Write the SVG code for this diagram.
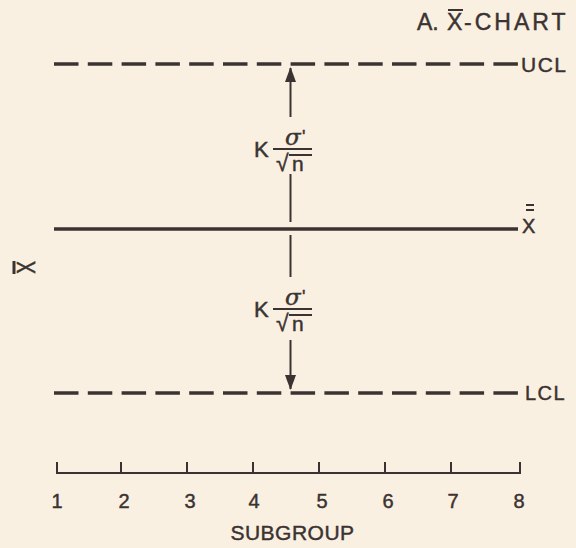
<svg xmlns="http://www.w3.org/2000/svg" width="576" height="548" viewBox="0 0 576 548">
<style>
  text { font-family: "Liberation Sans", Arial, sans-serif; fill: #3b3331; stroke: #3b3331; stroke-width: 0.45; }
  .ln { stroke: #3b3331; stroke-width: 3; fill: none; }
  .thin { stroke: #3b3331; stroke-width: 2; fill: none; }
  .dash { stroke: #3b3331; stroke-width: 3.5; fill: none; stroke-dasharray: 24.5 9.3; }
  .lbl { font-size: 20px; letter-spacing: 1.5px; }
  .num { font-size: 20px; text-anchor: middle; }
  .k { font-size: 22px; }
  .sig { font-size: 23px; font-style: italic; font-family: "DejaVu Serif", "Liberation Serif", serif; }
</style>
<defs>
  <marker id="ah" viewBox="0 0 15 11" refX="14" refY="5.5" markerWidth="7.5" markerHeight="5.5" markerUnits="strokeWidth" orient="auto">
    <path d="M0,0 L15,5.5 L0,11 z" fill="#3b3331"/>
  </marker>
</defs>
<rect width="576" height="548" fill="#f9f0e2"/>

<g id="title">
  <text x="417" y="30" class="k" style="font-size:23px">A. <tspan x="447">X</tspan><tspan x="464" style="letter-spacing:3px">-CHART</tspan></text>
  <line x1="448" y1="10" x2="463" y2="10" class="thin"/>
</g>

<g id="ucl">
  <line x1="54" y1="64" x2="518" y2="64" class="dash"/>
  <text x="521" y="72" class="lbl" style="font-size:21px">UCL</text>
</g>

<g id="center">
  <line x1="54" y1="229" x2="518" y2="229" class="ln" style="stroke-width:3.5"/>
  <text x="522" y="233" class="lbl">X</text>
  <line x1="526" y1="205" x2="534" y2="205" class="thin"/>
  <line x1="526" y1="210" x2="534" y2="210" class="thin"/>
</g>

<g id="lcl">
  <line x1="54" y1="393" x2="518" y2="393" class="dash"/>
  <text x="525" y="400" class="lbl">LCL</text>
</g>

<g id="ylabel">
  <text transform="translate(35,267.5) rotate(-90) scale(1,1.35)" x="0" y="0" text-anchor="middle" style="font-size:19px">X</text>
  <line x1="14" y1="261" x2="14" y2="274" class="ln"/>
</g>

<g id="upper-formula">
  <text x="254" y="157" class="k">K</text>
  <text x="285" y="145" class="sig">σ</text>
  <text x="302" y="143" style="font-size:18px">'</text>
  <line x1="273" y1="149" x2="312" y2="149" class="thin"/>
  <text x="276" y="171" style="font-size:23px">√</text>
  <text x="292" y="171" style="font-size:21px">n</text>
  <line x1="289" y1="155" x2="312" y2="155" class="thin"/>
</g>

<g id="lower-formula">
  <text x="254" y="317" class="k">K</text>
  <text x="285" y="305" class="sig">σ</text>
  <text x="302" y="303" style="font-size:18px">'</text>
  <line x1="273" y1="309" x2="312" y2="309" class="thin"/>
  <text x="276" y="331" style="font-size:23px">√</text>
  <text x="292" y="331" style="font-size:21px">n</text>
  <line x1="289" y1="315" x2="312" y2="315" class="thin"/>
</g>

<g id="connectors">
  <line x1="290.5" y1="117" x2="290.5" y2="68" class="thin" marker-end="url(#ah)"/>
  <line x1="290.5" y1="174" x2="290.5" y2="222" class="thin"/>
  <line x1="290.5" y1="235" x2="290.5" y2="277" class="thin"/>
  <line x1="290.5" y1="340" x2="290.5" y2="389" class="thin" marker-end="url(#ah)"/>
</g>

<g id="axis">
  <path d="M57,462 V473 H520 V462" class="thin"/>
  <line x1="121" y1="462" x2="121" y2="473" class="thin"/>
  <line x1="187" y1="462" x2="187" y2="473" class="thin"/>
  <line x1="253" y1="462" x2="253" y2="473" class="thin"/>
  <line x1="319" y1="462" x2="319" y2="473" class="thin"/>
  <line x1="385" y1="462" x2="385" y2="473" class="thin"/>
  <line x1="451" y1="462" x2="451" y2="473" class="thin"/>
  <text x="57" y="508" class="num">1</text>
  <text x="124" y="508" class="num">2</text>
  <text x="190" y="508" class="num">3</text>
  <text x="254" y="508" class="num">4</text>
  <text x="322" y="508" class="num">5</text>
  <text x="388" y="508" class="num">6</text>
  <text x="453" y="508" class="num">7</text>
  <text x="519" y="508" class="num">8</text>
  <text x="292.5" y="540" text-anchor="middle" style="font-size:21px;letter-spacing:0.5px">SUBGROUP</text>
</g>
</svg>
